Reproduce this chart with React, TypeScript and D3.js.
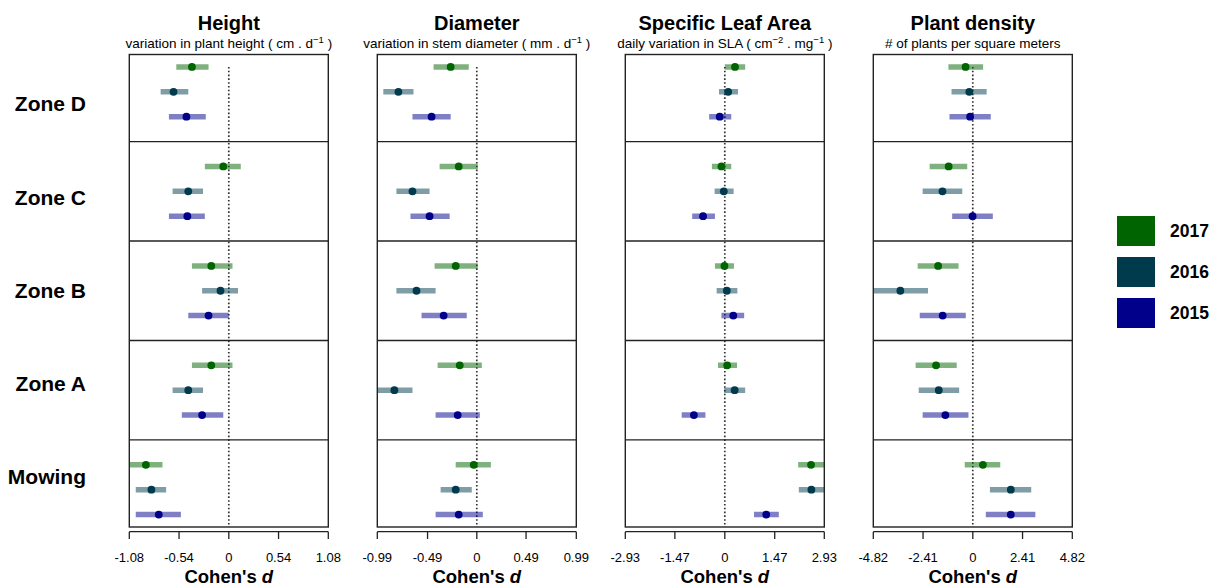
import React from "react";
import * as d3 from "d3";

const rows = ["Zone D", "Zone C", "Zone B", "Zone A", "Mowing"];
const years = ["2017", "2016", "2015"];
const pointColors = ["#006400", "#003B4D", "#00008B"];

// [row][year: 2017, 2016, 2015]
const heightEst = [[-0.40, -0.60, -0.46], [-0.06, -0.44, -0.45], [-0.19, -0.09, -0.22], [-0.19, -0.44, -0.29], [-0.90, -0.84, -0.76]];
const heightLow = [[-0.57, -0.74, -0.65], [-0.26, -0.61, -0.65], [-0.40, -0.29, -0.44], [-0.40, -0.61, -0.51], [-1.10, -1.01, -1.01]];
const heightHigh = [[-0.22, -0.44, -0.25], [0.13, -0.28, -0.26], [0.04, 0.10, 0.00], [0.04, -0.28, -0.06], [-0.72, -0.68, -0.52]];

const diamEst = [[-0.26, -0.78, -0.45], [-0.18, -0.64, -0.47], [-0.21, -0.60, -0.33], [-0.17, -0.82, -0.19], [-0.03, -0.21, -0.18]];
const diamLow = [[-0.43, -0.93, -0.64], [-0.37, -0.80, -0.66], [-0.42, -0.80, -0.55], [-0.39, -1.00, -0.41], [-0.21, -0.36, -0.41]];
const diamHigh = [[-0.08, -0.63, -0.26], [0.01, -0.47, -0.27], [0.01, -0.41, -0.10], [0.05, -0.64, 0.03], [0.14, -0.05, 0.06]];

const slaEst = [[0.30, 0.10, -0.15], [-0.10, -0.03, -0.64], [-0.01, 0.06, 0.25], [0.07, 0.29, -0.91], [2.54, 2.55, 1.22]];
const slaLow = [[0.00, -0.17, -0.46], [-0.38, -0.30, -0.96], [-0.29, -0.24, -0.10], [-0.20, -0.02, -1.27], [2.16, 2.18, 0.86]];
const slaHigh = [[0.60, 0.39, 0.19], [0.19, 0.26, -0.29], [0.27, 0.37, 0.57], [0.36, 0.60, -0.57], [3.05, 3.00, 1.59]];

const densEst = [[-0.35, -0.17, -0.13], [-1.17, -1.47, -0.01], [-1.68, -3.51, -1.46], [-1.78, -1.65, -1.33], [0.49, 1.84, 1.84]];
const densLow = [[-1.18, -1.03, -1.13], [-2.09, -2.43, -1.00], [-2.67, -4.90, -2.57], [-2.77, -2.62, -2.43], [-0.39, 0.83, 0.63]];
const densHigh = [[0.50, 0.67, 0.87], [-0.27, -0.51, 0.97], [-0.69, -2.17, -0.34], [-0.78, -0.66, -0.21], [1.33, 2.83, 3.03]];

const heightTicks = [-1.08, -0.54, 0, 0.54, 1.08];
const diamTicks = [-0.99, -0.49, 0, 0.49, 0.99];
const slaTicks = [-2.93, -1.47, 0, 1.47, 2.93];
const densTicks = [-4.82, -2.41, 0, 2.41, 4.82];

type Sub = { text: string; sup?: boolean };

const panels = [
  { title: "Height", sub: [{ text: "variation in plant height ( cm . d" }, { text: "−1", sup: true }, { text: " )" }] as Sub[], est: heightEst, low: heightLow, high: heightHigh, ticks: heightTicks },
  { title: "Diameter", sub: [{ text: "variation in stem diameter ( mm . d" }, { text: "−1", sup: true }, { text: " )" }] as Sub[], est: diamEst, low: diamLow, high: diamHigh, ticks: diamTicks },
  { title: "Specific Leaf Area", sub: [{ text: "daily variation in SLA ( cm" }, { text: "−2", sup: true }, { text: " . mg" }, { text: "−1", sup: true }, { text: " )" }] as Sub[], est: slaEst, low: slaLow, high: slaHigh, ticks: slaTicks },
  { title: "Plant density", sub: [{ text: "# of plants per square meters" }] as Sub[], est: densEst, low: densLow, high: densHigh, ticks: densTicks },
];

const W = 1210, H = 586;
const FONT = "'Liberation Sans', Arial, Helvetica, sans-serif";
const panelLeft0 = 129.3, panelStep = 248, panelW = 199;
const plotTop = 54.5, plotBottom = 527;

export default function App() {
  const y = d3.scaleLinear().domain([-0.5, 18.5]).range([plotTop, plotBottom]);
  const rowPos = (r: number, j: number) => r * 4 + j;
  const separators = [3, 7, 11, 15];
  const labelY = d3.scalePoint<string>().domain(rows).range([104, 477]);
  const legendY = d3.scalePoint<string>().domain(years).range([231, 313]);

  return (
    <svg width={W} height={H} style={{ position: "absolute", left: 0, top: 0, background: "#fff" }} fontFamily={FONT}>
      <defs>
        {panels.map((p, i) => {
          const left = panelLeft0 + i * panelStep;
          return (
            <clipPath id={`clip${i}`} key={i}>
              <rect x={left} y={plotTop} width={panelW} height={plotBottom - plotTop} />
            </clipPath>
          );
        })}
      </defs>

      {rows.map((r) => (
        <text key={r} x={86} y={labelY(r)} dy="0.35em" textAnchor="end" fontWeight="bold" fontSize={21} fill="#000">
          {r}
        </text>
      ))}

      {panels.map((p, i) => {
        const left = panelLeft0 + i * panelStep;
        const mx = p.ticks[p.ticks.length - 1];
        const x = d3.scaleLinear().domain([-mx, mx]).range([left, left + panelW]);
        const cx = left + panelW / 2;
        return (
          <g key={p.title}>
            <text x={cx} y={30} textAnchor="middle" fontWeight="bold" fontSize={20}>{p.title}</text>
            <text x={cx} y={47.5} textAnchor="middle" fontSize={13.5}>
              {p.sub.map((s, k) =>
                s.sup ? (
                  <tspan key={k} fontSize={9.5} baselineShift="super">{s.text}</tspan>
                ) : (
                  <tspan key={k}>{s.text}</tspan>
                )
              )}
            </text>

            <line x1={x(0)} x2={x(0)} y1={y(0)} y2={plotBottom} stroke="#333" strokeWidth={1.7} strokeDasharray="1.6,2.2" />

            <g clipPath={`url(#clip${i})`}>
              {rows.map((r, ri) =>
                years.map((yr, j) => (
                  <line key={`${r}-${yr}`} x1={x(p.low[ri][j])} x2={x(p.high[ri][j])} y1={y(rowPos(ri, j))} y2={y(rowPos(ri, j))}
                    stroke={pointColors[j]} strokeOpacity={0.5} strokeWidth={5.5} />
                ))
              )}
            </g>
            {rows.map((r, ri) =>
              years.map((yr, j) => (
                <circle key={`${r}-${yr}-p`} cx={x(p.est[ri][j])} cy={y(rowPos(ri, j))} r={3.9} fill={pointColors[j]} />
              ))
            )}

            {separators.map((s) => (
              <line key={s} x1={left} x2={left + panelW} y1={y(s)} y2={y(s)} stroke="#222" strokeWidth={1.3} />
            ))}
            <rect x={left} y={plotTop} width={panelW} height={plotBottom - plotTop} fill="none" stroke="#222" strokeWidth={1.4} />

            <line x1={x(p.ticks[0])} x2={x(p.ticks[p.ticks.length - 1])} y1={531.7} y2={531.7} stroke="#222" strokeWidth={1.3} />
            {p.ticks.map((t) => (
              <g key={t}>
                <line x1={x(t)} x2={x(t)} y1={531.7} y2={539} stroke="#222" strokeWidth={1.3} />
                <text x={x(t)} y={561.5} textAnchor="middle" fontSize={13}>{String(t)}</text>
              </g>
            ))}
            <text x={cx} y={582.5} textAnchor="middle" fontWeight="bold" fontSize={18.5}>
              Cohen's <tspan fontStyle="italic">d</tspan>
            </text>
          </g>
        );
      })}

      {years.map((yr, j) => (
        <g key={yr}>
          <rect x={1117} y={(legendY(yr) as number) - 15} width={38} height={30} fill={pointColors[j]} />
          <text x={1170} y={legendY(yr)} dy="0.35em" fontWeight="bold" fontSize={17.5}>{yr}</text>
        </g>
      ))}
    </svg>
  );
}
